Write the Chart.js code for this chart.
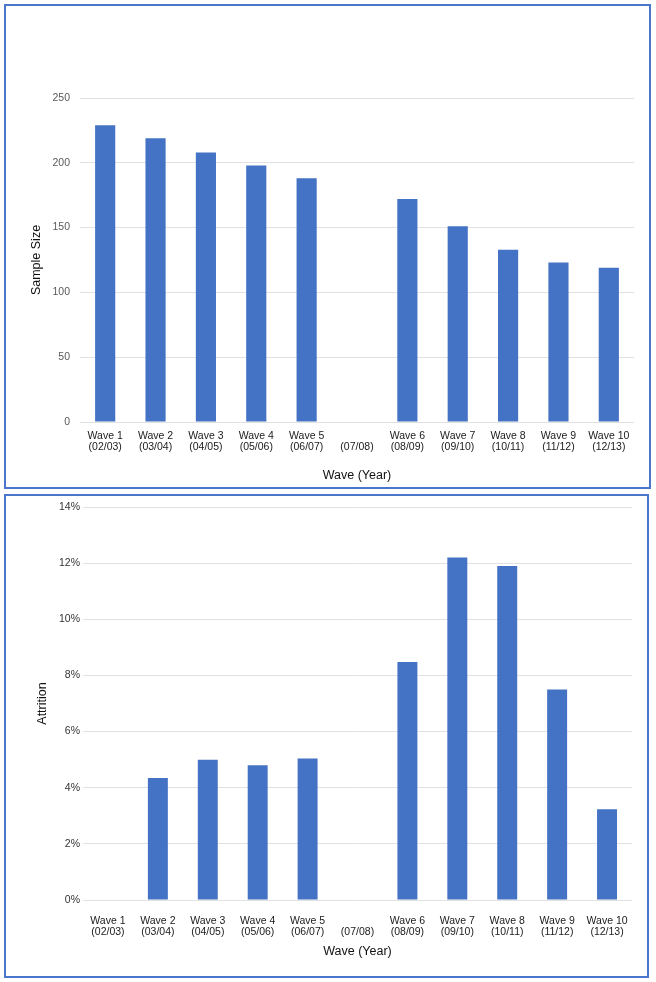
<!DOCTYPE html>
<html>
<head>
<meta charset="utf-8">
<script src="https://cdn.jsdelivr.net/npm/chart.js@4"></script>
<style>
  body { margin: 0; background: #fff; }
  .panel { position: absolute; border: 2px solid #4a77cc; box-sizing: border-box; background: #fff; }
  #top-panel { left: 4px; top: 4px; width: 647px; height: 485px; }
  #bottom-panel { left: 4px; top: 494px; width: 645px; height: 484px; }
  canvas { display: block; }
</style>
</head>
<body>
<div class="panel" id="top-panel"><canvas id="sample-chart" width="643" height="481"></canvas></div>
<div class="panel" id="bottom-panel"><canvas id="attrition-chart" width="641" height="480"></canvas></div>
<script>
// Data
const waveNames = ['Wave 1', 'Wave 2', 'Wave 3', 'Wave 4', 'Wave 5', '', 'Wave 6', 'Wave 7', 'Wave 8', 'Wave 9', 'Wave 10'];
const waveYears = ['(02/03)', '(03/04)', '(04/05)', '(05/06)', '(06/07)', '(07/08)', '(08/09)', '(09/10)', '(10/11)', '(11/12)', '(12/13)'];
const sampleSize = [229, 219, 208, 198, 188, null, 172, 151, 133, 123, 119];
const attrition = [null, 4.35, 5.0, 4.8, 5.04, null, 8.48, 12.2, 11.9, 7.5, 3.23];
const sampleTicks = { min: 0, max: 250, step: 50 };
const attritionTicks = { min: 0, max: 14, step: 2 };

const labels = waveNames.map((w, i) => [w, waveYears[i]]);
const FONT = '"Liberation Sans", Arial, Helvetica, sans-serif';
const BAR = '#4472c4';
const GRID = '#e1e1e1';

function makeChart(id, values, opts) {
    const ctx = document.getElementById(id).getContext('2d');
    return new Chart(ctx, {
        type: 'bar',
        data: {
            labels: labels,
            datasets: [{
                data: values,
                backgroundColor: BAR,
                borderWidth: 0,
                barPercentage: 0.4,
                categoryPercentage: 1.0
            }]
        },
        options: {
            responsive: false,
            animation: false,
            layout: { padding: opts.padding },
            plugins: { legend: { display: false }, tooltip: { enabled: false } },
            scales: {
                x: {
                    grid: { display: false, drawTicks: false },
                    border: { display: false },
                    ticks: {
                        color: '#1a1a1a',
                        font: { family: FONT, size: 10.5, lineHeight: 1.05 },
                        padding: opts.xTickPad,
                        maxRotation: 0,
                        autoSkip: false
                    },
                    title: {
                        display: true,
                        text: 'Wave (Year)',
                        color: '#111',
                        font: { family: FONT, size: 12.5, lineHeight: 1.2 },
                        padding: { top: 0, bottom: opts.xTitlePad }
                    },
                    afterFit: (s) => { s.height = opts.xHeight; }
                },
                y: {
                    min: opts.ticks.min,
                    max: opts.ticks.max,
                    grid: { color: GRID, lineWidth: 1, drawTicks: false },
                    border: { display: false },
                    ticks: {
                        stepSize: opts.ticks.step,
                        color: opts.yTickColor,
                        font: { family: FONT, size: 10.5 },
                        padding: opts.yTickPad,
                        callback: opts.tickFmt
                    },
                    title: {
                        display: true,
                        text: opts.yTitle,
                        color: '#111',
                        font: { family: FONT, size: 12.5, lineHeight: 1.2 },
                        padding: { top: opts.yTitlePad, bottom: 0 }
                    },
                    afterFit: (s) => { s.width = opts.yWidth; }
                }
            }
        }
    });
}

makeChart('sample-chart', sampleSize, {
    ticks: sampleTicks,
    yTitle: 'Sample Size',
    padding: { left: 20, right: 15, top: 92, bottom: 0 },
    yWidth: 54,
    yTickPad: 10,
    yTitlePad: 3,
    yTickColor: '#595959',
    xHeight: 65,
    xTickPad: 9,
    xTitlePad: 4,
    tickFmt: (v) => v
});

makeChart('attrition-chart', attrition, {
    ticks: attritionTicks,
    yTitle: 'Attrition',
    padding: { left: 20, right: 15, top: 11, bottom: 0 },
    yWidth: 57,
    yTickPad: 3,
    yTitlePad: 9.5,
    yTickColor: '#333333',
    xHeight: 76,
    xTickPad: 16,
    xTitlePad: 17,
    tickFmt: (v) => v + '%'
});
</script>
</body>
</html>
